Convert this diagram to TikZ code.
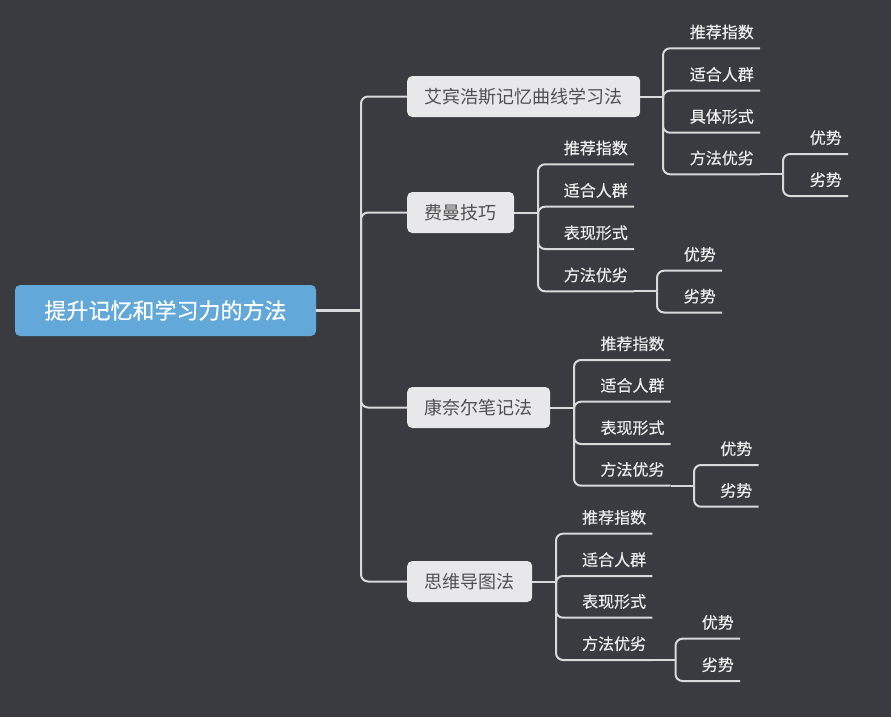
\documentclass[tikz,border=0pt]{standalone}
\usepackage{fontspec}
\setmainfont{Noto Sans CJK SC}
\newfontfamily\medfont{Noto Sans CJK SC}[FakeBold=0.4]
\definecolor{bg}{HTML}{3A3B40}
\definecolor{rootblue}{HTML}{62A8D9}
\definecolor{branchfill}{HTML}{E8E8EA}
\definecolor{branchtext}{HTML}{505050}
\definecolor{leaftext}{HTML}{EDEDED}
\definecolor{linecol}{HTML}{D9D9D9}
\begin{document}
\begin{tikzpicture}[x=1pt,y=-1pt,
  root/.style={fill=rootblue, rounded corners=5pt, text=white, font=\medfont\fontsize{22}{26}\selectfont, minimum width=301pt, minimum height=51pt, inner sep=0pt, text height=19.4pt, text depth=2.6pt},
  branch/.style={fill=branchfill, rounded corners=5pt, text=branchtext, font=\fontsize{18}{22}\selectfont, inner xsep=17.5pt, inner ysep=0pt, minimum height=41pt, anchor=west, text height=15.8pt, text depth=2.2pt},
  leaf/.style={text=leaftext, font=\medfont\fontsize{16}{19}\selectfont, anchor=south east, inner xsep=6pt, inner ysep=6pt, text height=12pt, text depth=4pt},
  conn/.style={draw=linecol, line width=2pt, rounded corners=7pt}]
\fill[bg] (0,0) rectangle (891,717);
\useasboundingbox (0,0) rectangle (891,717);
% root and branches
\node[root] (root) at (165.5,310.5) {提升记忆和学习力的方法};
\coordinate (s0) at (361,310.5);
\node[branch] (b1) at (407,96.5) {艾宾浩斯记忆曲线学习法};
\node[branch] (b2) at (407,212.5) {费曼技巧};
\node[branch] (b3) at (407,407.5) {康奈尔笔记法};
\node[branch] (b4) at (407,581.5) {思维导图法};
\draw[conn, line width=2.6pt] (root.east) -- (s0);
\foreach \b in {b1,b2,b3,b4} \draw[conn] (s0) |- (\b.west);
% branch 1
\coordinate (s1) at (663,96.5);
\node[leaf] (l11) at (760,48.3) {推荐指数};
\node[leaf] (l12) at (760,90.7) {适合人群};
\node[leaf] (l13) at (760,132.7) {具体形式};
\node[leaf] (l14) at (760,174.3) {方法优劣};
\coordinate (t1) at (783,174.3);
\node[leaf] (l141) at (848,154) {优势};
\node[leaf] (l142) at (848,196) {劣势};
% branch 2
\coordinate (s2) at (538,212.5);
\node[leaf] (l21) at (634,164.3) {推荐指数};
\node[leaf] (l22) at (634,206.7) {适合人群};
\node[leaf] (l23) at (634,249) {表现形式};
\node[leaf] (l24) at (634,291.3) {方法优劣};
\coordinate (t2) at (657,291.3);
\node[leaf] (l241) at (722,270.7) {优势};
\node[leaf] (l242) at (722,312.5) {劣势};
% branch 3
\coordinate (s3) at (574,407.5);
\node[leaf] (l31) at (670.7,360) {推荐指数};
\node[leaf] (l32) at (670.7,401.7) {适合人群};
\node[leaf] (l33) at (670.7,444) {表现形式};
\node[leaf] (l34) at (670.7,485.7) {方法优劣};
\coordinate (t3) at (694,485.7);
\node[leaf] (l341) at (758.5,465) {优势};
\node[leaf] (l342) at (758.5,506.7) {劣势};
% branch 4
\coordinate (s4) at (556,581.5);
\node[leaf] (l41) at (652.3,533.7) {推荐指数};
\node[leaf] (l42) at (652.3,576) {适合人群};
\node[leaf] (l43) at (652.3,617.7) {表现形式};
\node[leaf] (l44) at (652.3,660) {方法优劣};
\coordinate (t4) at (675.5,660);
\node[leaf] (l441) at (740,638.7) {优势};
\node[leaf] (l442) at (740,681) {劣势};
% connectors
\foreach \i in {1,2,3,4} {
  \draw[conn] (b\i.east) -- (s\i);
  \foreach \j in {1,2,3,4} \draw[conn] (s\i) |- (l\i\j.south east);
  \draw[conn] (l\i4.south east) -- (t\i);
  \draw[conn] (t\i) |- (l\i41.south east);
  \draw[conn] (t\i) |- (l\i42.south east);
}
\end{tikzpicture}
\end{document}
